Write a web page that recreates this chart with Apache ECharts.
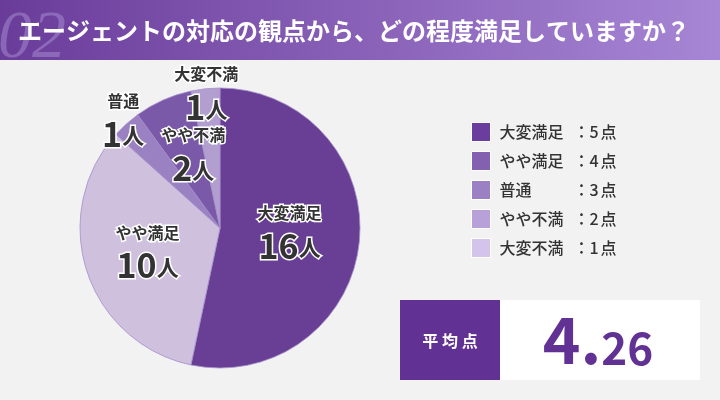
<!DOCTYPE html>
<html>
<head>
<meta charset="utf-8">
<script src="https://cdn.jsdelivr.net/npm/echarts@6/dist/echarts.min.js"></script>
<style>
html, body { margin: 0; padding: 0; background: #f2f2f2; }
#chart { width: 720px; height: 400px; }
</style>
</head>
<body>
<div id="chart"></div>
<script>
var categories = ['大変満足', 'やや満足', '普通', 'やや不満', '大変不満'];
var counts = [16, 10, 1, 2, 1];
var scores = [5, 4, 3, 2, 1];
var averageParts = ['4.', '26'];
var titleText = 'エージェントの対応の観点から、どの程度満足していますか？';
var questionNo = '02';

var FONT = '"Noto Sans CJK JP", "Noto Sans", sans-serif';
var sliceColors = ['#683f94', '#cfc0de', '#9a81c1', '#7a5aa8', '#b29fcf'];
var legendColors = ['#6a3d9e', '#8360b0', '#9c80c4', '#b8a0d8', '#d4c4eb'];
// ラベルの位置調整（inside からのずれ）
var labelShift = [[-3, -4], [-3, 1], [-48, -54], [3, -7], [-6, -62]];

var myChart = echarts.init(document.getElementById('chart'));

var pieData = categories.map(function (name, i) {
  return { name: name, value: counts[i], itemStyle: { color: sliceColors[i] } };
});
var legendData = categories.map(function (name, i) {
  return { name: name, itemStyle: { color: legendColors[i] } };
});

var legendText = { fontFamily: FONT, fontSize: 16, fontWeight: 500, color: '#333', lineHeight: 19 };

var option = {
  backgroundColor: '#f2f2f2',
  animation: false,
  legend: {
    orient: 'vertical',
    left: 466,
    top: 117,
    itemWidth: 19,
    itemHeight: 19,
    itemGap: 9,
    icon: 'rect',
    selectedMode: false,
    itemStyle: { borderColor: '#fff', borderWidth: 1 },
    data: legendData,
    formatter: function (name) {
      var i = categories.indexOf(name);
      return '{n|' + name + '}{c|：}{d|' + scores[i] + '}{u|点}';
    },
    textStyle: {
      fontFamily: FONT,
      fontSize: 16,
      color: '#333',
      lineHeight: 19,
      padding: [0, 0, 0, 4],
      rich: {
        n: echarts.util.extend({ width: 74 }, legendText),
        c: legendText,
        d: echarts.util.extend({ padding: [0, 2, 0, 0] }, legendText),
        u: legendText
      }
    }
  },
  series: [{
    type: 'pie',
    center: [220, 228],
    radius: 140,
    startAngle: 90,
    silent: true,
    avoidLabelOverlap: false,
    itemStyle: { borderColor: '#a48ecb', borderWidth: 0.8 },
    labelLine: { show: false },
    label: {
      show: true,
      position: 'inside',
      formatter: function (p) {
        return '{n|' + p.name + '}\n{v|' + p.value + '}{u|人}';
      },
      rich: {
        n: {
          fontFamily: FONT, fontSize: 16, fontWeight: 'bold', color: '#333',
          textBorderColor: '#fff', textBorderWidth: 3, lineHeight: 24
        },
        v: {
          fontFamily: FONT, fontSize: 34, fontWeight: 'bold', color: '#333',
          textBorderColor: '#fff', textBorderWidth: 3, lineHeight: 38, verticalAlign: 'bottom'
        },
        u: {
          fontFamily: FONT, fontSize: 22, fontWeight: 'bold', color: '#333',
          textBorderColor: '#fff', textBorderWidth: 3, lineHeight: 22, verticalAlign: 'bottom',
          padding: [0, 0, 4, 0]
        }
      }
    },
    labelLayout: function (params) {
      var s = labelShift[params.dataIndex];
      return { dx: s[0], dy: s[1] };
    },
    data: pieData
  }],
  graphic: [
    {
      type: 'rect',
      shape: { x: 0, y: 0, width: 720, height: 60 },
      style: {
        fill: new echarts.graphic.LinearGradient(0, 0, 1, 0, [
          { offset: 0, color: '#6a3c9a' },
          { offset: 1, color: '#a786d5' }
        ])
      }
    },
    {
      type: 'text',
      x: -2,
      y: 39,
      style: {
        text: questionNo,
        font: 'italic 68px "Liberation Serif", "DejaVu Serif", serif',
        fill: 'rgba(185, 165, 225, 0.4)',
        verticalAlign: 'middle'
      }
    },
    {
      type: 'text',
      x: 18,
      y: 31,
      style: {
        text: titleText,
        font: 'bold 24px ' + FONT,
        fill: '#fff',
        verticalAlign: 'middle'
      }
    },
    {
      type: 'rect',
      shape: { x: 400, y: 300, width: 100, height: 80 },
      style: { fill: '#613294' }
    },
    {
      type: 'rect',
      shape: { x: 500, y: 300, width: 200, height: 80 },
      style: { fill: '#fff' }
    },
    {
      type: 'text',
      x: 450,
      y: 341,
      style: {
        text: '平 均 点',
        font: 'bold 16px ' + FONT,
        fill: '#fff',
        align: 'center',
        verticalAlign: 'middle'
      }
    },
    {
      type: 'text',
      x: 598,
      y: 340,
      style: {
        text: '{a|' + averageParts[0] + '}{b|' + averageParts[1] + '}',
        align: 'center',
        verticalAlign: 'middle',
        fill: '#613294',
        rich: {
          a: { fontFamily: FONT, fontSize: 64, fontWeight: 'bold', fill: '#613294', lineHeight: 64, verticalAlign: 'bottom' },
          b: { fontFamily: FONT, fontSize: 44, fontWeight: 'bold', fill: '#613294', lineHeight: 44, verticalAlign: 'bottom', padding: [0, 0, 2, 0] }
        }
      }
    }
  ]
};
myChart.setOption(option, true);
</script>
</body>
</html>
